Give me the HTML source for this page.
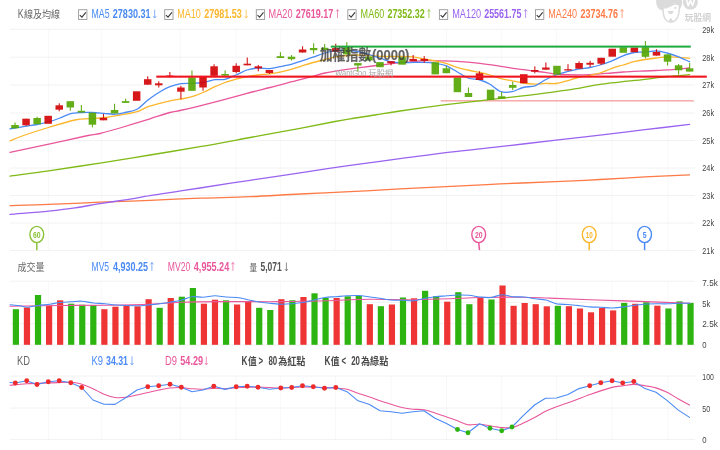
<!DOCTYPE html>
<html><head><meta charset="utf-8"><title>chart</title><style>html,body{margin:0;padding:0;background:#fff;width:720px;height:450px;overflow:hidden}</style></head><body>
<svg width="720" height="450" viewBox="0 0 720 450" style="display:block;font-family:'Liberation Sans','Noto Sans CJK TC',sans-serif;filter:blur(0.7px)">
<rect width="720" height="450" fill="#fff"/>
<path d="M48.6 29.3V250.5M101.3 29.3V250.5M180.3 29.3V250.5M236.2 29.3V250.5M280.3 29.3V250.5M335.5 29.3V250.5M391.2 29.3V250.5M446.6 29.3V250.5M501.3 29.3V250.5M556.6 29.3V250.5M611.8 29.3V250.5M668.0 29.3V250.5M48.6 281.2V345M101.3 281.2V345M180.3 281.2V345M236.2 281.2V345M280.3 281.2V345M335.5 281.2V345M391.2 281.2V345M446.6 281.2V345M501.3 281.2V345M556.6 281.2V345M611.8 281.2V345M668.0 281.2V345M48.6 376V439.4M101.3 376V439.4M180.3 376V439.4M236.2 376V439.4M280.3 376V439.4M335.5 376V439.4M391.2 376V439.4M446.6 376V439.4M501.3 376V439.4M556.6 376V439.4M611.8 376V439.4M668.0 376V439.4" stroke="#f8f8f8" stroke-width="1" fill="none"/>
<path d="M10 29.3H695M10 57.2H695M10 85.0H695M10 113.0H695M10 140.6H695M10 168.0H695M10 195.5H695M10 223.0H695M10 250.5H695M10 281.2H695M10 302.4H695M10 323.7H695M10 345H695M10 376H695M10 408H695M10 439.4H695" stroke="#f2f2f2" stroke-width="1" fill="none"/>
<rect x="440.8" y="100.3" width="253" height="1.1" fill="#f28a8a"/>
<path d="M10.0 205.6C16.4 205.4 33.6 205.0 48.6 204.4C63.6 203.8 83.1 202.9 100.0 202.2C116.9 201.5 133.3 201.0 150.0 200.3C166.7 199.6 183.3 198.8 200.0 198.2C216.7 197.6 233.3 197.4 250.0 196.7C266.7 196.0 283.3 194.8 300.0 194.0C316.7 193.2 333.3 192.5 350.0 191.7C366.7 190.8 384.0 189.7 400.0 188.9C416.0 188.1 429.3 187.5 446.0 186.7C462.7 185.9 481.7 184.8 500.0 183.9C518.3 183.1 539.3 182.3 556.0 181.6C572.7 180.9 585.2 180.3 600.0 179.5C614.8 178.7 630.1 177.7 645.0 176.9C659.9 176.1 682.1 175.2 689.5 174.9" stroke="#ff7a45" stroke-width="1.3" fill="none" stroke-linejoin="round" stroke-linecap="round"/>
<path d="M10.0 214.4C16.4 213.8 37.8 212.2 48.6 211.1C59.4 210.0 66.4 209.2 75.0 207.9C83.6 206.7 91.7 204.9 100.0 203.6C108.3 202.3 116.7 201.2 125.0 199.9C133.3 198.6 141.7 197.0 150.0 195.7C158.3 194.3 166.7 193.1 175.0 191.8C183.3 190.5 187.5 189.9 200.0 188.0C212.5 186.1 233.3 182.8 250.0 180.3C266.7 177.8 283.3 175.3 300.0 172.8C316.7 170.3 333.3 167.7 350.0 165.3C366.7 163.0 383.3 160.9 400.0 158.7C416.7 156.5 433.3 154.1 450.0 152.1C466.7 150.1 482.3 148.7 500.0 146.7C517.7 144.7 539.3 142.0 556.0 140.1C572.7 138.2 585.2 136.8 600.0 135.1C614.8 133.4 630.1 131.5 645.0 129.7C659.9 127.9 682.1 125.3 689.5 124.4" stroke="#9a63f0" stroke-width="1.3" fill="none" stroke-linejoin="round" stroke-linecap="round"/>
<path d="M10.0 176.1C16.4 175.2 33.6 173.0 48.6 170.8C63.6 168.6 83.1 165.7 100.0 163.1C116.9 160.5 133.3 157.7 150.0 155.0C166.7 152.3 183.3 149.6 200.0 146.7C216.7 143.8 233.3 140.6 250.0 137.5C266.7 134.4 285.8 131.0 300.0 128.3C314.2 125.6 326.7 123.1 335.0 121.5C343.3 119.9 343.3 119.9 350.0 118.8C356.7 117.7 366.7 116.3 375.0 115.0C383.3 113.7 388.2 112.7 400.0 111.0C411.8 109.3 433.5 106.3 446.0 104.7C458.5 103.1 465.2 102.4 475.0 101.3C484.8 100.2 495.8 98.9 505.0 97.9C514.2 96.9 521.5 96.1 530.0 95.1C538.5 94.1 547.7 92.8 556.0 91.7C564.3 90.6 572.7 89.4 580.0 88.2C587.3 87.0 589.2 85.9 600.0 84.4C610.8 82.9 633.8 80.6 645.0 79.3C656.2 78.0 659.6 77.3 667.0 76.5C674.4 75.7 685.8 75.0 689.5 74.7" stroke="#7fba16" stroke-width="1.3" fill="none" stroke-linejoin="round" stroke-linecap="round"/>
<path d="M10.0 152.3C16.7 150.9 37.0 146.6 50.0 143.8C63.0 141.0 79.7 137.2 88.0 135.5C96.3 133.8 94.7 134.8 100.0 133.5C105.3 132.2 111.7 130.4 120.0 128.0C128.3 125.5 141.7 121.4 150.0 118.8C158.3 116.2 165.0 113.9 170.0 112.5C175.0 111.1 175.0 111.6 180.0 110.5C185.0 109.4 192.5 107.7 200.0 105.8C207.5 103.9 217.2 101.4 225.0 99.3C232.8 97.2 239.5 95.3 247.0 93.3C254.5 91.3 262.5 89.4 270.0 87.5C277.5 85.6 284.8 83.6 292.0 81.7C299.2 79.8 307.5 77.8 313.0 76.3C318.5 74.8 319.7 74.1 325.0 73.0C330.3 71.9 339.2 70.5 345.0 69.6C350.8 68.7 354.2 68.4 360.0 67.6C365.8 66.8 373.3 65.8 380.0 65.0C386.7 64.2 394.5 63.3 400.0 62.8C405.5 62.2 409.0 62.1 413.0 61.7C417.0 61.4 419.5 60.9 424.0 60.7C428.5 60.6 434.5 60.7 440.0 60.8C445.5 60.9 450.3 60.9 457.0 61.3C463.7 61.7 472.7 62.5 480.0 63.3C487.3 64.1 493.8 65.2 501.0 66.3C508.2 67.4 515.7 68.7 523.0 69.7C530.3 70.7 539.5 71.7 545.0 72.4C550.5 73.1 552.3 73.6 556.0 74.0C559.7 74.4 563.3 74.6 567.0 74.7C570.7 74.8 574.2 74.8 578.0 74.8C581.8 74.8 586.3 74.9 590.0 74.7C593.7 74.5 596.3 74.1 600.0 73.8C603.7 73.5 608.2 73.3 612.0 73.0C615.8 72.7 619.3 72.3 623.0 72.0C626.7 71.7 630.3 71.6 634.0 71.4C637.7 71.2 641.3 71.2 645.0 71.0C648.7 70.8 652.3 70.7 656.0 70.5C659.7 70.3 661.4 70.3 667.0 69.9C672.6 69.5 685.8 68.3 689.5 68.0" stroke="#e9579b" stroke-width="1.3" fill="none" stroke-linejoin="round" stroke-linecap="round"/>
<path d="M10.0 140.8C12.5 139.8 18.3 137.3 25.0 135.0C31.7 132.7 41.7 129.5 50.0 127.0C58.3 124.5 68.3 121.4 75.0 120.0C81.7 118.6 85.0 119.1 90.0 118.7C95.0 118.3 100.0 118.1 105.0 117.5C110.0 116.9 116.7 115.5 120.0 115.0C123.3 114.5 122.2 114.8 125.0 114.2C127.8 113.7 133.2 113.0 137.0 111.7C140.8 110.5 144.2 108.1 148.0 106.7C151.8 105.3 156.3 104.3 160.0 103.3C163.7 102.3 166.7 101.5 170.0 100.8C173.3 100.1 176.3 99.9 180.0 99.2C183.7 98.5 188.2 97.8 192.0 96.7C195.8 95.6 199.2 94.2 203.0 92.5C206.8 90.8 211.3 88.4 215.0 86.7C218.7 85.0 221.5 83.8 225.0 82.5C228.5 81.2 232.3 80.2 236.0 79.2C239.7 78.2 243.3 77.4 247.0 76.7C250.7 76.0 254.2 75.5 258.0 75.0C261.8 74.5 266.3 74.3 270.0 73.8C273.7 73.3 276.3 73.0 280.0 72.2C283.7 71.4 288.3 70.3 292.0 69.2C295.7 68.1 298.5 66.9 302.0 65.8C305.5 64.7 309.2 63.5 313.0 62.5C316.8 61.5 321.3 60.4 325.0 59.5C328.7 58.6 331.3 57.9 335.0 57.2C338.7 56.5 343.2 55.9 347.0 55.5C350.8 55.1 354.3 55.0 358.0 55.0C361.7 55.0 365.3 55.3 369.0 55.5C372.7 55.7 376.3 56.1 380.0 56.3C383.7 56.5 387.3 56.5 391.0 56.5C394.7 56.5 398.3 56.5 402.0 56.5C405.7 56.5 409.3 56.4 413.0 56.8C416.7 57.2 420.3 58.2 424.0 58.9C427.7 59.6 431.3 60.1 435.0 60.8C438.7 61.5 442.3 62.2 446.0 63.3C449.7 64.4 453.3 66.2 457.0 67.3C460.7 68.4 464.2 69.1 468.0 70.0C471.8 70.9 476.3 71.7 480.0 72.5C483.7 73.3 486.5 74.0 490.0 75.0C493.5 76.0 497.3 77.7 501.0 78.7C504.7 79.7 508.3 80.1 512.0 80.8C515.7 81.5 519.2 82.4 523.0 83.0C526.8 83.6 531.3 84.1 535.0 84.2C538.7 84.3 541.5 83.5 545.0 83.4C548.5 83.3 552.3 83.9 556.0 83.5C559.7 83.1 563.3 81.8 567.0 80.8C570.7 79.8 574.2 78.4 578.0 77.5C581.8 76.6 586.3 76.0 590.0 75.3C593.7 74.5 596.3 74.2 600.0 73.0C603.7 71.8 608.2 69.6 612.0 68.3C615.8 67.0 619.3 66.1 623.0 65.0C626.7 63.9 630.3 62.6 634.0 61.7C637.7 60.8 641.3 60.1 645.0 59.5C648.7 58.9 652.3 58.4 656.0 58.0C659.7 57.6 663.3 57.0 667.0 56.9C670.7 56.8 674.2 57.1 678.0 57.3C681.8 57.5 687.6 58.1 689.5 58.2" stroke="#fbb62c" stroke-width="1.3" fill="none" stroke-linejoin="round" stroke-linecap="round"/>
<path d="M10.0 128.8C12.5 128.4 20.5 127.0 25.0 126.3C29.5 125.6 32.8 125.3 37.0 124.5C41.2 123.7 46.2 122.6 50.0 121.5C53.8 120.4 56.7 119.3 60.0 118.0C63.3 116.7 66.5 114.7 70.0 113.8C73.5 112.9 77.3 112.8 81.0 112.6C84.7 112.4 88.2 112.4 92.0 112.5C95.8 112.6 100.2 113.1 104.0 113.4C107.8 113.7 111.5 114.4 115.0 114.2C118.5 114.0 121.3 113.3 125.0 112.5C128.7 111.7 133.2 111.3 137.0 109.2C140.8 107.1 144.2 102.9 148.0 100.0C151.8 97.1 156.3 93.9 160.0 91.7C163.7 89.5 166.5 88.0 170.0 86.7C173.5 85.4 177.3 84.3 181.0 83.7C184.7 83.1 188.3 83.5 192.0 83.3C195.7 83.1 199.2 83.1 203.0 82.5C206.8 81.9 211.3 80.2 215.0 79.7C218.7 79.2 221.5 80.1 225.0 79.3C228.5 78.5 232.3 76.5 236.0 75.0C239.7 73.5 243.3 71.2 247.0 70.0C250.7 68.8 254.2 68.2 258.0 68.0C261.8 67.8 266.3 68.9 270.0 68.7C273.7 68.5 276.3 67.5 280.0 66.7C283.7 66.0 288.3 65.2 292.0 64.2C295.7 63.2 298.5 62.0 302.0 60.8C305.5 59.6 309.2 58.5 313.0 57.2C316.8 55.9 321.2 54.1 325.0 53.0C328.8 51.9 332.3 51.1 336.0 50.7C339.7 50.3 343.3 50.4 347.0 50.5C350.7 50.6 354.3 50.8 358.0 51.5C361.7 52.2 365.3 53.4 369.0 54.5C372.7 55.6 376.3 56.8 380.0 58.0C383.7 59.2 387.3 61.0 391.0 61.8C394.7 62.6 398.3 62.6 402.0 62.7C405.7 62.8 409.3 62.5 413.0 62.4C416.7 62.3 420.3 62.3 424.0 62.4C427.7 62.5 431.3 62.7 435.0 63.2C438.7 63.8 442.3 64.3 446.0 65.7C449.7 67.1 453.3 69.7 457.0 71.7C460.7 73.8 464.2 76.6 468.0 78.0C471.8 79.4 476.3 79.0 480.0 80.0C483.7 81.0 486.5 82.2 490.0 84.2C493.5 86.2 497.3 90.5 501.0 91.7C504.7 93.0 508.3 92.4 512.0 91.7C515.7 91.0 519.2 88.5 523.0 87.5C526.8 86.5 531.3 87.0 535.0 85.8C538.7 84.5 541.5 81.8 545.0 80.0C548.5 78.2 552.3 76.4 556.0 75.0C559.7 73.6 563.3 72.7 567.0 71.7C570.7 70.7 574.2 69.9 578.0 69.2C581.8 68.5 586.3 68.2 590.0 67.5C593.7 66.8 596.3 66.1 600.0 65.0C603.7 63.9 608.2 62.3 612.0 60.8C615.8 59.3 619.3 57.2 623.0 55.8C626.7 54.4 630.3 53.1 634.0 52.5C637.7 51.9 641.3 52.4 645.0 52.1C648.7 51.8 652.3 50.8 656.0 50.9C659.7 51.0 663.3 52.0 667.0 53.0C670.7 54.0 674.2 55.1 678.0 56.6C681.8 58.1 687.6 60.9 689.5 61.7" stroke="#4a8af4" stroke-width="1.3" fill="none" stroke-linejoin="round" stroke-linecap="round"/>
<g opacity="0.9">
<rect x="14.45" y="122.5" width="1.1" height="5.8" fill="#53a600"/>
<rect x="11.25" y="125.0" width="7.5" height="3.3" fill="#53a600"/>
<rect x="25.51" y="118.7" width="1.1" height="7.1" fill="#d20003"/>
<rect x="22.31" y="118.7" width="7.5" height="6.6" fill="#d20003"/>
<rect x="36.57" y="116.7" width="1.1" height="7.5" fill="#53a600"/>
<rect x="33.37" y="118.0" width="7.5" height="6.2" fill="#53a600"/>
<rect x="44.43" y="115.8" width="7.5" height="8.0" fill="#d20003"/>
<rect x="58.69" y="103.3" width="1.1" height="8.0" fill="#d20003"/>
<rect x="55.49" y="105.3" width="7.5" height="4.4" fill="#d20003"/>
<rect x="69.75" y="101.2" width="1.1" height="9.6" fill="#53a600"/>
<rect x="66.55" y="101.2" width="7.5" height="6.3" fill="#53a600"/>
<rect x="80.81" y="105.0" width="1.1" height="7.5" fill="#53a600"/>
<rect x="77.61" y="110.8" width="7.5" height="1.7" fill="#53a600"/>
<rect x="91.87" y="112.7" width="1.1" height="14.6" fill="#53a600"/>
<rect x="88.67" y="112.7" width="7.5" height="12.0" fill="#53a600"/>
<rect x="102.93" y="114.0" width="1.1" height="6.3" fill="#d20003"/>
<rect x="99.73" y="117.8" width="7.5" height="2.5" fill="#d20003"/>
<rect x="113.99" y="103.8" width="1.1" height="9.6" fill="#53a600"/>
<rect x="110.79" y="110.0" width="7.5" height="3.4" fill="#53a600"/>
<rect x="125.05" y="98.7" width="1.1" height="4.2" fill="#53a600"/>
<rect x="121.85" y="101.1" width="7.5" height="1.8" fill="#53a600"/>
<rect x="132.91" y="91.3" width="7.5" height="9.5" fill="#d20003"/>
<rect x="147.17" y="76.3" width="1.1" height="8.4" fill="#d20003"/>
<rect x="143.97" y="79.2" width="7.5" height="5.5" fill="#d20003"/>
<rect x="158.23" y="81.3" width="1.1" height="6.2" fill="#d20003"/>
<rect x="155.03" y="83.3" width="7.5" height="2.0" fill="#d20003"/>
<rect x="169.29" y="72.0" width="1.1" height="5.5" fill="#d20003"/>
<rect x="166.09" y="75.5" width="7.5" height="1.5" fill="#d20003"/>
<rect x="180.35" y="85.8" width="1.1" height="13.4" fill="#d20003"/>
<rect x="177.15" y="87.5" width="7.5" height="4.2" fill="#d20003"/>
<rect x="191.41" y="70.5" width="1.1" height="20.3" fill="#53a600"/>
<rect x="188.21" y="77.5" width="7.5" height="13.3" fill="#53a600"/>
<rect x="202.47" y="77.0" width="1.1" height="13.8" fill="#d20003"/>
<rect x="199.27" y="77.0" width="7.5" height="10.5" fill="#d20003"/>
<rect x="213.53" y="64.2" width="1.1" height="11.6" fill="#d20003"/>
<rect x="210.33" y="66.3" width="7.5" height="9.5" fill="#d20003"/>
<rect x="224.59" y="70.4" width="1.1" height="5.2" fill="#53a600"/>
<rect x="221.39" y="74.0" width="7.5" height="1.6" fill="#53a600"/>
<rect x="235.65" y="63.3" width="1.1" height="10.0" fill="#d20003"/>
<rect x="232.45" y="65.8" width="7.5" height="6.2" fill="#d20003"/>
<rect x="246.71" y="57.5" width="1.1" height="7.8" fill="#d20003"/>
<rect x="243.51" y="63.7" width="7.5" height="1.6" fill="#d20003"/>
<rect x="257.77" y="65.0" width="1.1" height="6.3" fill="#d20003"/>
<rect x="254.57" y="66.3" width="7.5" height="2.0" fill="#d20003"/>
<rect x="268.83" y="70.0" width="1.1" height="4.0" fill="#d20003"/>
<rect x="265.63" y="70.0" width="7.5" height="3.0" fill="#d20003"/>
<rect x="279.89" y="52.2" width="1.1" height="5.8" fill="#53a600"/>
<rect x="276.69" y="56.2" width="7.5" height="1.8" fill="#53a600"/>
<rect x="290.95" y="55.0" width="1.1" height="5.5" fill="#53a600"/>
<rect x="287.75" y="56.7" width="7.5" height="2.5" fill="#53a600"/>
<rect x="302.01" y="46.3" width="1.1" height="6.2" fill="#d20003"/>
<rect x="298.81" y="49.5" width="7.5" height="3.0" fill="#d20003"/>
<rect x="313.07" y="43.3" width="1.1" height="10.5" fill="#53a600"/>
<rect x="309.87" y="48.0" width="7.5" height="2.2" fill="#53a600"/>
<rect x="324.13" y="44.0" width="1.1" height="6.0" fill="#53a600"/>
<rect x="320.93" y="47.8" width="7.5" height="2.2" fill="#53a600"/>
<rect x="335.19" y="43.7" width="1.1" height="8.0" fill="#d20003"/>
<rect x="331.99" y="48.1" width="7.5" height="3.6" fill="#d20003"/>
<rect x="346.25" y="42.2" width="1.1" height="12.2" fill="#53a600"/>
<rect x="343.05" y="47.2" width="7.5" height="7.2" fill="#53a600"/>
<rect x="357.31" y="63.1" width="1.1" height="8.7" fill="#53a600"/>
<rect x="354.11" y="63.1" width="7.5" height="2.4" fill="#53a600"/>
<rect x="365.17" y="56.5" width="7.5" height="4.0" fill="#53a600"/>
<rect x="376.23" y="62.1" width="7.5" height="5.1" fill="#53a600"/>
<rect x="390.49" y="61.2" width="1.1" height="4.1" fill="#d20003"/>
<rect x="387.29" y="61.2" width="7.5" height="2.1" fill="#d20003"/>
<rect x="398.35" y="57.2" width="7.5" height="7.5" fill="#53a600"/>
<rect x="412.61" y="55.0" width="1.1" height="6.1" fill="#d20003"/>
<rect x="409.41" y="58.9" width="7.5" height="2.2" fill="#d20003"/>
<rect x="423.67" y="56.1" width="1.1" height="6.7" fill="#d20003"/>
<rect x="420.47" y="58.9" width="7.5" height="1.9" fill="#d20003"/>
<rect x="431.53" y="62.2" width="7.5" height="12.2" fill="#53a600"/>
<rect x="445.79" y="66.0" width="1.1" height="7.2" fill="#53a600"/>
<rect x="442.59" y="68.3" width="7.5" height="4.9" fill="#53a600"/>
<rect x="453.65" y="77.5" width="7.5" height="14.7" fill="#53a600"/>
<rect x="467.91" y="87.5" width="1.1" height="9.5" fill="#53a600"/>
<rect x="464.71" y="93.0" width="7.5" height="4.0" fill="#53a600"/>
<rect x="478.97" y="71.3" width="1.1" height="8.7" fill="#d20003"/>
<rect x="475.77" y="73.3" width="7.5" height="6.7" fill="#d20003"/>
<rect x="486.83" y="89.7" width="7.5" height="10.3" fill="#53a600"/>
<rect x="501.09" y="92.0" width="1.1" height="6.7" fill="#53a600"/>
<rect x="497.89" y="96.3" width="7.5" height="2.4" fill="#53a600"/>
<rect x="512.15" y="81.7" width="1.1" height="8.3" fill="#53a600"/>
<rect x="508.95" y="85.0" width="7.5" height="2.8" fill="#53a600"/>
<rect x="520.01" y="74.2" width="7.5" height="9.1" fill="#d20003"/>
<rect x="534.27" y="66.3" width="1.1" height="7.0" fill="#d20003"/>
<rect x="531.07" y="70.0" width="7.5" height="1.7" fill="#d20003"/>
<rect x="545.33" y="62.5" width="1.1" height="7.2" fill="#d20003"/>
<rect x="542.13" y="67.5" width="7.5" height="2.2" fill="#d20003"/>
<rect x="553.19" y="65.8" width="7.5" height="8.8" fill="#53a600"/>
<rect x="567.45" y="64.2" width="1.1" height="6.3" fill="#d20003"/>
<rect x="564.25" y="69.2" width="7.5" height="1.3" fill="#d20003"/>
<rect x="578.51" y="61.3" width="1.1" height="7.4" fill="#d20003"/>
<rect x="575.31" y="63.0" width="7.5" height="5.7" fill="#d20003"/>
<rect x="589.57" y="60.8" width="1.1" height="6.2" fill="#d20003"/>
<rect x="586.37" y="62.8" width="7.5" height="1.9" fill="#d20003"/>
<rect x="600.63" y="57.8" width="1.1" height="7.2" fill="#d20003"/>
<rect x="597.43" y="57.8" width="7.5" height="5.9" fill="#d20003"/>
<rect x="608.49" y="48.7" width="7.5" height="8.0" fill="#d20003"/>
<rect x="619.55" y="47.2" width="7.5" height="5.6" fill="#53a600"/>
<rect x="630.61" y="47.5" width="7.5" height="4.7" fill="#d20003"/>
<rect x="644.87" y="41.0" width="1.1" height="17.4" fill="#53a600"/>
<rect x="641.67" y="47.2" width="7.5" height="9.6" fill="#53a600"/>
<rect x="655.93" y="49.2" width="1.1" height="6.4" fill="#d20003"/>
<rect x="652.73" y="51.9" width="7.5" height="3.7" fill="#d20003"/>
<rect x="666.99" y="54.4" width="1.1" height="11.1" fill="#53a600"/>
<rect x="663.79" y="54.4" width="7.5" height="7.3" fill="#53a600"/>
<rect x="678.05" y="64.0" width="1.1" height="10.6" fill="#53a600"/>
<rect x="674.85" y="65.3" width="7.5" height="5.0" fill="#53a600"/>
<rect x="689.11" y="63.0" width="1.1" height="8.6" fill="#53a600"/>
<rect x="685.91" y="68.3" width="7.5" height="3.3" fill="#53a600"/>
</g>
<rect x="156.3" y="75.6" width="550.5" height="2.1" fill="#f0141e"/>
<rect x="330.8" y="45.6" width="360" height="2" fill="#1eaa3c"/>
<rect x="12.80" y="309.2" width="6.2" height="35.6" fill="#2eb410"/>
<rect x="23.86" y="307.5" width="6.2" height="37.3" fill="#ee3434"/>
<rect x="34.92" y="295.0" width="6.2" height="49.8" fill="#2eb410"/>
<rect x="45.98" y="305.8" width="6.2" height="39.0" fill="#ee3434"/>
<rect x="57.04" y="300.3" width="6.2" height="44.5" fill="#ee3434"/>
<rect x="68.10" y="303.7" width="6.2" height="41.1" fill="#2eb410"/>
<rect x="79.16" y="304.7" width="6.2" height="40.1" fill="#2eb410"/>
<rect x="90.22" y="305.0" width="6.2" height="39.8" fill="#2eb410"/>
<rect x="101.28" y="309.2" width="6.2" height="35.6" fill="#ee3434"/>
<rect x="112.34" y="306.7" width="6.2" height="38.1" fill="#ee3434"/>
<rect x="123.40" y="305.5" width="6.2" height="39.3" fill="#ee3434"/>
<rect x="134.46" y="306.3" width="6.2" height="38.5" fill="#ee3434"/>
<rect x="145.52" y="299.2" width="6.2" height="45.6" fill="#ee3434"/>
<rect x="156.58" y="307.8" width="6.2" height="37.0" fill="#2eb410"/>
<rect x="167.64" y="298.0" width="6.2" height="46.8" fill="#ee3434"/>
<rect x="178.70" y="296.7" width="6.2" height="48.1" fill="#2eb410"/>
<rect x="189.76" y="288.0" width="6.2" height="56.8" fill="#2eb410"/>
<rect x="200.82" y="303.7" width="6.2" height="41.1" fill="#ee3434"/>
<rect x="211.88" y="299.7" width="6.2" height="45.1" fill="#ee3434"/>
<rect x="222.94" y="300.3" width="6.2" height="44.5" fill="#2eb410"/>
<rect x="234.00" y="304.5" width="6.2" height="40.3" fill="#ee3434"/>
<rect x="245.06" y="301.7" width="6.2" height="43.1" fill="#ee3434"/>
<rect x="256.12" y="307.8" width="6.2" height="37.0" fill="#2eb410"/>
<rect x="267.18" y="310.0" width="6.2" height="34.8" fill="#2eb410"/>
<rect x="278.24" y="299.2" width="6.2" height="45.6" fill="#ee3434"/>
<rect x="289.30" y="300.3" width="6.2" height="44.5" fill="#2eb410"/>
<rect x="300.36" y="297.0" width="6.2" height="47.8" fill="#ee3434"/>
<rect x="311.42" y="293.3" width="6.2" height="51.5" fill="#2eb410"/>
<rect x="322.48" y="298.0" width="6.2" height="46.8" fill="#2eb410"/>
<rect x="333.54" y="298.0" width="6.2" height="46.8" fill="#ee3434"/>
<rect x="344.60" y="296.3" width="6.2" height="48.5" fill="#2eb410"/>
<rect x="355.66" y="295.8" width="6.2" height="49.0" fill="#2eb410"/>
<rect x="366.72" y="304.2" width="6.2" height="40.6" fill="#ee3434"/>
<rect x="377.78" y="306.2" width="6.2" height="38.6" fill="#2eb410"/>
<rect x="388.84" y="304.5" width="6.2" height="40.3" fill="#ee3434"/>
<rect x="399.90" y="297.5" width="6.2" height="47.3" fill="#2eb410"/>
<rect x="410.96" y="298.3" width="6.2" height="46.5" fill="#ee3434"/>
<rect x="422.02" y="290.8" width="6.2" height="54.0" fill="#2eb410"/>
<rect x="433.08" y="296.2" width="6.2" height="48.6" fill="#2eb410"/>
<rect x="444.14" y="301.7" width="6.2" height="43.1" fill="#ee3434"/>
<rect x="455.20" y="292.2" width="6.2" height="52.6" fill="#2eb410"/>
<rect x="466.26" y="304.2" width="6.2" height="40.6" fill="#2eb410"/>
<rect x="477.32" y="297.5" width="6.2" height="47.3" fill="#ee3434"/>
<rect x="488.38" y="299.5" width="6.2" height="45.3" fill="#2eb410"/>
<rect x="499.44" y="285.5" width="6.2" height="59.3" fill="#ee3434"/>
<rect x="510.50" y="305.8" width="6.2" height="39.0" fill="#ee3434"/>
<rect x="521.56" y="303.0" width="6.2" height="41.8" fill="#ee3434"/>
<rect x="532.62" y="304.2" width="6.2" height="40.6" fill="#ee3434"/>
<rect x="543.68" y="306.3" width="6.2" height="38.5" fill="#ee3434"/>
<rect x="554.74" y="305.8" width="6.2" height="39.0" fill="#2eb410"/>
<rect x="565.80" y="306.2" width="6.2" height="38.6" fill="#ee3434"/>
<rect x="576.86" y="308.5" width="6.2" height="36.3" fill="#ee3434"/>
<rect x="587.92" y="312.3" width="6.2" height="32.5" fill="#ee3434"/>
<rect x="598.98" y="308.0" width="6.2" height="36.8" fill="#ee3434"/>
<rect x="610.04" y="310.4" width="6.2" height="34.4" fill="#ee3434"/>
<rect x="621.10" y="302.9" width="6.2" height="41.9" fill="#2eb410"/>
<rect x="632.16" y="303.8" width="6.2" height="41.0" fill="#ee3434"/>
<rect x="643.22" y="302.2" width="6.2" height="42.6" fill="#2eb410"/>
<rect x="654.28" y="305.7" width="6.2" height="39.1" fill="#ee3434"/>
<rect x="665.34" y="308.5" width="6.2" height="36.3" fill="#2eb410"/>
<rect x="676.40" y="301.4" width="6.2" height="43.4" fill="#2eb410"/>
<rect x="687.46" y="302.9" width="6.2" height="41.9" fill="#2eb410"/>
<path d="M10.0 306.2C18.3 306.1 43.3 305.7 60.0 305.5C76.7 305.3 95.0 305.4 110.0 305.2C125.0 305.0 138.2 304.7 150.0 304.2C161.8 303.7 169.3 302.6 181.0 302.2C192.7 301.8 205.2 301.7 220.0 301.6C234.8 301.5 256.2 301.8 270.0 301.7C283.8 301.6 291.3 301.6 303.0 301.3C314.7 301.1 328.8 300.6 340.0 300.2C351.2 299.8 357.7 299.3 370.0 299.2C382.3 299.1 400.7 299.8 414.0 299.7C427.3 299.6 439.0 299.2 450.0 298.8C461.0 298.4 468.3 297.8 480.0 297.5C491.7 297.2 508.3 297.1 520.0 297.2C531.7 297.3 538.3 297.7 550.0 298.1C561.7 298.5 575.0 299.2 590.0 299.8C605.0 300.4 623.3 300.8 640.0 301.4C656.7 302.0 681.7 303.0 690.0 303.3" stroke="#e9579b" stroke-width="1.1" fill="none" stroke-linejoin="round" stroke-linecap="round"/>
<path d="M10.0 304.7C11.7 304.9 17.2 305.4 20.0 305.8C22.8 306.2 24.0 307.2 27.0 307.2C30.0 307.1 34.2 306.0 38.0 305.5C41.8 305.0 46.3 304.7 50.0 304.2C53.7 303.7 56.5 302.9 60.0 302.5C63.5 302.1 67.3 301.9 71.0 301.7C74.7 301.5 78.3 301.0 82.0 301.2C85.7 301.4 89.2 302.6 93.0 303.0C96.8 303.4 101.2 303.4 105.0 303.7C108.8 304.0 110.7 304.6 116.0 305.0C121.3 305.4 131.7 305.8 137.0 305.8C142.3 305.8 144.2 305.4 148.0 305.0C151.8 304.6 156.3 304.2 160.0 303.7C163.7 303.2 166.5 302.8 170.0 302.2C173.5 301.6 177.3 301.2 181.0 300.3C184.7 299.4 188.3 297.2 192.0 296.7C195.7 296.2 199.2 297.3 203.0 297.2C206.8 297.1 211.2 295.8 215.0 295.8C218.8 295.8 222.3 296.7 226.0 297.0C229.7 297.3 233.3 297.1 237.0 297.5C240.7 297.9 244.3 298.9 248.0 299.7C251.7 300.4 255.3 301.4 259.0 302.0C262.7 302.6 266.3 302.9 270.0 303.3C273.7 303.7 277.3 304.1 281.0 304.2C284.7 304.3 288.3 304.0 292.0 303.7C295.7 303.4 299.3 303.1 303.0 302.5C306.7 301.9 310.3 300.8 314.0 300.0C317.7 299.2 321.3 298.1 325.0 297.5C328.7 296.9 332.3 297.0 336.0 296.7C339.7 296.4 343.3 296.0 347.0 295.8C350.7 295.6 354.2 295.3 358.0 295.5C361.8 295.7 366.3 296.5 370.0 297.0C373.7 297.5 376.5 297.8 380.0 298.3C383.5 298.8 387.3 299.7 391.0 300.0C394.7 300.3 398.2 300.2 402.0 300.3C405.8 300.4 410.2 301.1 414.0 300.8C417.8 300.5 421.5 299.0 425.0 298.3C428.5 297.6 431.3 297.1 435.0 296.7C438.7 296.3 443.2 296.1 447.0 295.8C450.8 295.5 454.3 295.1 458.0 295.0C461.7 294.9 465.3 295.0 469.0 295.3C472.7 295.6 476.3 296.6 480.0 297.0C483.7 297.4 487.3 297.9 491.0 297.5C494.7 297.1 498.3 294.8 502.0 294.7C505.7 294.6 509.3 296.3 513.0 296.7C516.7 297.1 520.3 296.7 524.0 297.0C527.7 297.3 531.3 298.2 535.0 298.7C538.7 299.2 542.3 299.1 546.0 300.0C549.7 300.9 553.3 303.1 557.0 303.9C560.7 304.6 564.2 304.2 568.0 304.5C571.8 304.8 576.3 305.3 580.0 305.7C583.7 306.1 586.5 306.6 590.0 306.9C593.5 307.2 597.3 307.1 601.0 307.3C604.7 307.5 608.2 308.1 612.0 308.0C615.8 307.9 620.2 307.4 624.0 306.9C627.8 306.4 631.3 305.7 635.0 305.2C638.7 304.7 642.3 304.2 646.0 304.0C649.7 303.8 653.3 303.8 657.0 303.8C660.7 303.8 664.3 303.9 668.0 303.8C671.7 303.7 675.3 303.4 679.0 303.3C682.7 303.2 688.2 303.3 690.0 303.3" stroke="#4a8af4" stroke-width="1.1" fill="none" stroke-linejoin="round" stroke-linecap="round"/>
<path d="M10.0 385.3C12.8 385.0 20.3 384.1 26.7 383.7C33.1 383.3 40.9 383.2 48.3 383.0C55.6 382.8 65.2 382.0 70.8 382.2C76.4 382.4 78.0 383.1 81.7 384.2C85.4 385.3 89.3 387.0 93.0 388.7C96.7 390.4 100.3 392.7 104.0 394.2C107.7 395.7 111.3 397.0 115.0 397.5C118.7 398.0 122.3 397.7 126.0 397.3C129.7 396.9 133.3 395.8 137.0 395.0C140.7 394.2 144.3 393.3 148.0 392.5C151.7 391.7 155.3 390.8 159.0 390.0C162.7 389.2 166.3 388.4 170.0 388.0C173.7 387.6 177.3 387.4 181.0 387.5C184.7 387.6 188.3 388.5 192.0 388.8C195.7 389.1 199.3 389.3 203.0 389.2C206.7 389.1 210.3 388.4 214.0 388.3C217.7 388.2 221.3 388.9 225.0 388.8C228.7 388.7 230.5 388.1 236.0 387.8C241.5 387.5 250.7 387.0 258.0 387.0C265.3 387.0 272.7 388.0 280.0 388.0C287.3 388.0 294.5 387.1 302.0 387.0C309.5 386.9 319.4 387.3 325.0 387.5C330.6 387.7 332.1 387.7 335.8 388.0C339.5 388.3 343.3 388.3 347.0 389.2C350.7 390.1 354.3 392.1 358.0 393.3C361.7 394.6 365.3 395.4 369.0 396.7C372.7 397.9 376.3 399.6 380.0 400.8C383.7 402.1 387.3 403.1 391.0 404.2C394.7 405.3 398.3 406.7 402.0 407.5C405.7 408.3 409.3 408.8 413.0 409.2C416.7 409.6 420.3 409.1 424.0 409.7C427.7 410.3 431.3 411.8 435.0 413.0C438.7 414.2 442.2 415.4 446.0 416.7C449.8 418.0 453.8 419.5 457.5 420.8C461.2 422.1 464.3 424.1 468.0 424.7C471.7 425.3 475.8 424.0 479.5 424.2C483.2 424.4 486.3 425.2 490.0 425.8C493.7 426.4 498.0 427.2 501.7 427.5C505.4 427.8 508.4 428.2 512.0 427.5C515.5 426.8 519.2 425.0 523.0 423.3C526.8 421.6 530.8 419.5 534.5 417.5C538.2 415.5 541.8 413.1 545.5 411.3C549.2 409.5 552.8 408.1 556.5 406.7C560.2 405.3 562.4 404.8 568.0 402.8C573.6 400.8 582.7 397.1 590.0 394.5C597.3 391.9 606.5 388.8 612.0 387.4C617.5 385.9 619.3 386.3 623.0 385.8C626.7 385.3 630.3 384.4 634.0 384.4C637.7 384.4 641.3 385.2 645.0 385.8C648.7 386.4 652.3 386.8 656.0 387.9C659.7 389.0 663.3 390.4 667.0 392.2C670.7 394.0 674.2 396.6 678.0 398.8C681.8 401.0 687.6 404.1 689.5 405.1" stroke="#e9579b" stroke-width="1.1" fill="none" stroke-linejoin="round" stroke-linecap="round"/>
<path d="M10.0 382.5L15.3 383.0L26.7 380.8L37.0 384.5L48.3 381.7L59.2 380.8L70.8 382.8L81.7 387.5L93.0 400.0L104.0 404.3L115.0 404.4L126.0 397.5L137.0 390.0L147.8 386.7L158.7 385.8L170.0 384.2L181.3 387.2L192.0 391.7L203.0 390.0L213.8 386.3L225.0 389.4L236.2 386.7L247.2 386.2L258.0 387.2L269.5 389.2L280.8 388.0L291.7 387.5L302.5 385.8L313.3 386.7L324.5 388.3L335.8 387.5L347.0 391.7L358.0 400.8L369.0 404.2L380.0 410.8L391.0 411.7L402.0 413.3L413.0 411.7L424.0 410.8L435.0 418.3L446.0 423.3L457.5 429.5L468.0 432.8L479.5 423.8L490.0 428.3L501.7 430.8L512.0 427.0L523.0 415.8L534.5 405.0L545.5 398.3L556.5 398.0L568.0 394.5L579.0 388.6L589.7 385.8L600.8 382.7L612.1 380.8L622.7 383.0L633.8 381.5L645.0 388.6L656.0 392.2L667.0 400.4L678.0 409.9L689.5 417.4" stroke="#4a8af4" stroke-width="1.1" fill="none" stroke-linejoin="round" stroke-linecap="round" opacity="1"/>
<circle cx="15.3" cy="383" r="2.45" fill="#ee2a2a"/>
<circle cx="26.7" cy="380.8" r="2.45" fill="#ee2a2a"/>
<circle cx="37" cy="384.5" r="2.45" fill="#ee2a2a"/>
<circle cx="48.3" cy="381.7" r="2.45" fill="#ee2a2a"/>
<circle cx="59.2" cy="380.8" r="2.45" fill="#ee2a2a"/>
<circle cx="70.8" cy="382.8" r="2.45" fill="#ee2a2a"/>
<circle cx="81.7" cy="387.5" r="2.45" fill="#ee2a2a"/>
<circle cx="147.8" cy="386.7" r="2.45" fill="#ee2a2a"/>
<circle cx="158.7" cy="385.8" r="2.45" fill="#ee2a2a"/>
<circle cx="170" cy="384.2" r="2.45" fill="#ee2a2a"/>
<circle cx="181.3" cy="387.2" r="2.45" fill="#ee2a2a"/>
<circle cx="213.8" cy="386.3" r="2.45" fill="#ee2a2a"/>
<circle cx="236.2" cy="386.7" r="2.45" fill="#ee2a2a"/>
<circle cx="247.2" cy="386.2" r="2.45" fill="#ee2a2a"/>
<circle cx="258" cy="387.2" r="2.45" fill="#ee2a2a"/>
<circle cx="280.8" cy="388" r="2.45" fill="#ee2a2a"/>
<circle cx="291.7" cy="387.5" r="2.45" fill="#ee2a2a"/>
<circle cx="302.5" cy="385.8" r="2.45" fill="#ee2a2a"/>
<circle cx="313.3" cy="386.7" r="2.45" fill="#ee2a2a"/>
<circle cx="324.5" cy="388.3" r="2.45" fill="#ee2a2a"/>
<circle cx="335.8" cy="387.5" r="2.45" fill="#ee2a2a"/>
<circle cx="589.7" cy="385.8" r="2.45" fill="#ee2a2a"/>
<circle cx="600.8" cy="382.7" r="2.45" fill="#ee2a2a"/>
<circle cx="612.1" cy="380.8" r="2.45" fill="#ee2a2a"/>
<circle cx="622.7" cy="383" r="2.45" fill="#ee2a2a"/>
<circle cx="633.8" cy="381.5" r="2.45" fill="#ee2a2a"/>
<circle cx="457.5" cy="429.5" r="2.45" fill="#2eb410"/>
<circle cx="468" cy="432.8" r="2.45" fill="#2eb410"/>
<circle cx="490" cy="428.3" r="2.45" fill="#2eb410"/>
<circle cx="501.7" cy="430.8" r="2.45" fill="#2eb410"/>
<circle cx="512" cy="427" r="2.45" fill="#2eb410"/>
<path d="M36.8 242.6L36.8 250.2" stroke="#8bc23a" stroke-width="1.5" fill="none"/><ellipse cx="36.8" cy="234.5" rx="6.9" ry="8.1" fill="#fff" stroke="#8bc23a" stroke-width="1.4"/><text x="36.8" y="237.6" font-size="8.6" font-weight="bold" fill="#8bc23a" text-anchor="middle" textLength="7.6" lengthAdjust="spacingAndGlyphs">60</text>
<path d="M478.7 242.6L479.5 250.2" stroke="#e9579b" stroke-width="1.5" fill="none"/><ellipse cx="478.7" cy="234.5" rx="6.9" ry="8.1" fill="#fff" stroke="#e9579b" stroke-width="1.4"/><text x="478.7" y="237.6" font-size="8.6" font-weight="bold" fill="#e9579b" text-anchor="middle" textLength="7.6" lengthAdjust="spacingAndGlyphs">20</text>
<path d="M589.2 242.6L589.2 250.2" stroke="#fbb62c" stroke-width="1.5" fill="none"/><ellipse cx="589.2" cy="234.5" rx="6.9" ry="8.1" fill="#fff" stroke="#fbb62c" stroke-width="1.4"/><text x="589.2" y="237.6" font-size="8.6" font-weight="bold" fill="#fbb62c" text-anchor="middle" textLength="7.0" lengthAdjust="spacingAndGlyphs">10</text>
<path d="M644.6 242.6L644.6 250.2" stroke="#4a8af4" stroke-width="1.5" fill="none"/><ellipse cx="644.6" cy="234.5" rx="6.9" ry="8.1" fill="#fff" stroke="#4a8af4" stroke-width="1.4"/><text x="644.6" y="237.6" font-size="8.6" font-weight="bold" fill="#4a8af4" text-anchor="middle" textLength="3.8" lengthAdjust="spacingAndGlyphs">5</text>
<text x="17.7" y="17.8" font-size="12.2" fill="#686868" textLength="5.9" lengthAdjust="spacingAndGlyphs" text-anchor="start" opacity="1">K</text>
<text x="24" y="17.7" font-size="10.4" fill="#686868" font-family="'Liberation Sans','Noto Sans CJK TC',sans-serif" textLength="36.1" lengthAdjust="spacingAndGlyphs" text-anchor="start" opacity="1">線及均線</text>
<rect x="78.6" y="9.7" width="8.3" height="9.8" fill="#fff" stroke="#999" stroke-width="0.9"/><path d="M79.8 15.2L81.89999999999999 17.2L85.8 12.3" stroke="#3a3a3a" stroke-width="1.1" fill="none"/>
<text x="91.5" y="17.8" font-size="12.2" fill="#4a8af4" textLength="18" lengthAdjust="spacingAndGlyphs" text-anchor="start" opacity="1">MA5</text>
<text x="112.8" y="17.8" font-size="12.2" fill="#4a8af4" font-weight="bold" textLength="37.7" lengthAdjust="spacingAndGlyphs" text-anchor="start" opacity="1">27830.31</text>
<path d="M154.7 9.600000000000001V18.0M153.2 16.2L154.7 18.0L156.2 16.2" stroke="#4a8af4" stroke-width="0.8" fill="none" opacity="0.85"/>
<rect x="164.7" y="9.7" width="8.3" height="9.8" fill="#fff" stroke="#999" stroke-width="0.9"/><path d="M165.89999999999998 15.2L168.0 17.2L171.89999999999998 12.3" stroke="#3a3a3a" stroke-width="1.1" fill="none"/>
<text x="177.2" y="17.8" font-size="12.2" fill="#fbb62c" textLength="23.6" lengthAdjust="spacingAndGlyphs" text-anchor="start" opacity="1">MA10</text>
<text x="204.2" y="17.8" font-size="12.2" fill="#fbb62c" font-weight="bold" textLength="37.6" lengthAdjust="spacingAndGlyphs" text-anchor="start" opacity="1">27981.53</text>
<path d="M246.2 9.600000000000001V18.0M244.7 16.2L246.2 18.0L247.7 16.2" stroke="#fbb62c" stroke-width="0.8" fill="none" opacity="0.85"/>
<rect x="256.3" y="9.7" width="8.3" height="9.8" fill="#fff" stroke="#999" stroke-width="0.9"/><path d="M257.5 15.2L259.6 17.2L263.5 12.3" stroke="#3a3a3a" stroke-width="1.1" fill="none"/>
<text x="268.6" y="17.8" font-size="12.2" fill="#e9579b" textLength="23.9" lengthAdjust="spacingAndGlyphs" text-anchor="start" opacity="1">MA20</text>
<text x="295.8" y="17.8" font-size="12.2" fill="#e9579b" font-weight="bold" textLength="37.5" lengthAdjust="spacingAndGlyphs" text-anchor="start" opacity="1">27619.17</text>
<path d="M337.5 18.0V9.600000000000001M336.0 11.4L337.5 9.600000000000001L339.0 11.4" stroke="#e9579b" stroke-width="0.8" fill="none" opacity="0.85"/>
<rect x="347.8" y="9.7" width="8.3" height="9.8" fill="#fff" stroke="#999" stroke-width="0.9"/><path d="M349.0 15.2L351.1 17.2L355.0 12.3" stroke="#3a3a3a" stroke-width="1.1" fill="none"/>
<text x="360.6" y="17.8" font-size="12.2" fill="#7fba16" textLength="23.7" lengthAdjust="spacingAndGlyphs" text-anchor="start" opacity="1">MA60</text>
<text x="387.4" y="17.8" font-size="12.2" fill="#7fba16" font-weight="bold" textLength="37.4" lengthAdjust="spacingAndGlyphs" text-anchor="start" opacity="1">27352.32</text>
<path d="M428.9 18.0V9.600000000000001M427.4 11.4L428.9 9.600000000000001L430.4 11.4" stroke="#7fba16" stroke-width="0.8" fill="none" opacity="0.85"/>
<rect x="439.4" y="9.7" width="8.3" height="9.8" fill="#fff" stroke="#999" stroke-width="0.9"/><path d="M440.59999999999997 15.2L442.7 17.2L446.59999999999997 12.3" stroke="#3a3a3a" stroke-width="1.1" fill="none"/>
<text x="452.2" y="17.8" font-size="12.2" fill="#9a63f0" textLength="29" lengthAdjust="spacingAndGlyphs" text-anchor="start" opacity="1">MA120</text>
<text x="484.2" y="17.8" font-size="12.2" fill="#9a63f0" font-weight="bold" textLength="37.2" lengthAdjust="spacingAndGlyphs" text-anchor="start" opacity="1">25561.75</text>
<path d="M525.6 18.0V9.600000000000001M524.1 11.4L525.6 9.600000000000001L527.1 11.4" stroke="#9a63f0" stroke-width="0.8" fill="none" opacity="0.85"/>
<rect x="535.5" y="9.7" width="8.3" height="9.8" fill="#fff" stroke="#999" stroke-width="0.9"/><path d="M536.7 15.2L538.8 17.2L542.7 12.3" stroke="#3a3a3a" stroke-width="1.1" fill="none"/>
<text x="548.3" y="17.8" font-size="12.2" fill="#ff7a45" textLength="28.7" lengthAdjust="spacingAndGlyphs" text-anchor="start" opacity="1">MA240</text>
<text x="580.4" y="17.8" font-size="12.2" fill="#ff7a45" font-weight="bold" textLength="37.5" lengthAdjust="spacingAndGlyphs" text-anchor="start" opacity="1">23734.76</text>
<path d="M622.1 18.0V9.600000000000001M620.6 11.4L622.1 9.600000000000001L623.6 11.4" stroke="#ff7a45" stroke-width="0.8" fill="none" opacity="0.85"/>
<text x="702.3" y="32.7" font-size="9.2" fill="#444" textLength="11.8" lengthAdjust="spacingAndGlyphs" text-anchor="start" opacity="1">29k</text>
<text x="702.3" y="60.6" font-size="9.2" fill="#444" textLength="11.8" lengthAdjust="spacingAndGlyphs" text-anchor="start" opacity="1">28k</text>
<text x="702.3" y="88.4" font-size="9.2" fill="#444" textLength="11.8" lengthAdjust="spacingAndGlyphs" text-anchor="start" opacity="1">27k</text>
<text x="702.3" y="116.4" font-size="9.2" fill="#444" textLength="11.8" lengthAdjust="spacingAndGlyphs" text-anchor="start" opacity="1">26k</text>
<text x="702.3" y="144.0" font-size="9.2" fill="#444" textLength="11.8" lengthAdjust="spacingAndGlyphs" text-anchor="start" opacity="1">25k</text>
<text x="702.3" y="171.4" font-size="9.2" fill="#444" textLength="11.8" lengthAdjust="spacingAndGlyphs" text-anchor="start" opacity="1">24k</text>
<text x="702.3" y="198.9" font-size="9.2" fill="#444" textLength="11.8" lengthAdjust="spacingAndGlyphs" text-anchor="start" opacity="1">23k</text>
<text x="702.3" y="226.4" font-size="9.2" fill="#444" textLength="11.8" lengthAdjust="spacingAndGlyphs" text-anchor="start" opacity="1">22k</text>
<text x="702.3" y="253.9" font-size="9.2" fill="#444" textLength="11.8" lengthAdjust="spacingAndGlyphs" text-anchor="start" opacity="1">21k</text>
<text x="702.3" y="285.8" font-size="9.2" fill="#444" textLength="15.5" lengthAdjust="spacingAndGlyphs" text-anchor="start" opacity="1">7.5k</text>
<text x="702.3" y="306.6" font-size="9.2" fill="#444" textLength="8" lengthAdjust="spacingAndGlyphs" text-anchor="start" opacity="1">5k</text>
<text x="702.3" y="326.90000000000003" font-size="9.2" fill="#444" textLength="15.5" lengthAdjust="spacingAndGlyphs" text-anchor="start" opacity="1">2.5k</text>
<text x="702.3" y="348.3" font-size="9.2" fill="#444" textLength="4.3" lengthAdjust="spacingAndGlyphs" text-anchor="start" opacity="1">0</text>
<text x="702.3" y="380.1" font-size="9.2" fill="#444" textLength="11.5" lengthAdjust="spacingAndGlyphs" text-anchor="start" opacity="1">100</text>
<text x="702.3" y="411.90000000000003" font-size="9.2" fill="#444" textLength="8" lengthAdjust="spacingAndGlyphs" text-anchor="start" opacity="1">50</text>
<text x="702.3" y="443.3" font-size="9.2" fill="#444" textLength="4.3" lengthAdjust="spacingAndGlyphs" text-anchor="start" opacity="1">0</text>
<text x="17.5" y="270.6" font-size="10.4" fill="#686868" font-family="'Liberation Sans','Noto Sans CJK TC',sans-serif" textLength="27.1" lengthAdjust="spacingAndGlyphs" text-anchor="start" opacity="1">成交量</text>
<text x="91.6" y="270.7" font-size="12.2" fill="#4a8af4" textLength="17.5" lengthAdjust="spacingAndGlyphs" text-anchor="start" opacity="1">MV5</text>
<text x="113" y="270.7" font-size="12.2" fill="#4a8af4" font-weight="bold" textLength="35" lengthAdjust="spacingAndGlyphs" text-anchor="start" opacity="1">4,930.25</text>
<path d="M151.9 270.9V262.5M150.4 264.3L151.9 262.5L153.4 264.3" stroke="#4a8af4" stroke-width="0.8" fill="none" opacity="0.85"/>
<text x="167.8" y="270.7" font-size="12.2" fill="#e9579b" textLength="22.5" lengthAdjust="spacingAndGlyphs" text-anchor="start" opacity="1">MV20</text>
<text x="193.8" y="270.7" font-size="12.2" fill="#e9579b" font-weight="bold" textLength="35.4" lengthAdjust="spacingAndGlyphs" text-anchor="start" opacity="1">4,955.24</text>
<path d="M232.9 270.9V262.5M231.4 264.3L232.9 262.5L234.4 264.3" stroke="#e9579b" stroke-width="0.8" fill="none" opacity="0.85"/>
<text x="249.5" y="270.6" font-size="9.4" fill="#555" font-family="'Liberation Sans','Noto Sans CJK TC',sans-serif" textLength="7.6" lengthAdjust="spacingAndGlyphs" text-anchor="start" opacity="1">量</text>
<text x="260.4" y="270.7" font-size="12.2" fill="#555" font-weight="bold" textLength="21.4" lengthAdjust="spacingAndGlyphs" text-anchor="start" opacity="1">5,071</text>
<path d="M286.4 262.5V270.9M284.9 269.09999999999997L286.4 270.9L287.9 269.09999999999997" stroke="#555" stroke-width="0.8" fill="none" opacity="0.85"/>
<text x="17" y="364.6" font-size="12.2" fill="#686868" textLength="13" lengthAdjust="spacingAndGlyphs" text-anchor="start" opacity="1">KD</text>
<text x="91.6" y="364.6" font-size="12.2" fill="#4a8af4" textLength="11.5" lengthAdjust="spacingAndGlyphs" text-anchor="start" opacity="1">K9</text>
<text x="106" y="364.6" font-size="12.2" fill="#4a8af4" font-weight="bold" textLength="22" lengthAdjust="spacingAndGlyphs" text-anchor="start" opacity="1">34.31</text>
<path d="M132 356.40000000000003V364.8M130.5 363.0L132 364.8L133.5 363.0" stroke="#4a8af4" stroke-width="0.8" fill="none" opacity="0.85"/>
<text x="165" y="364.6" font-size="12.2" fill="#e9579b" textLength="12" lengthAdjust="spacingAndGlyphs" text-anchor="start" opacity="1">D9</text>
<text x="180.3" y="364.6" font-size="12.2" fill="#e9579b" font-weight="bold" textLength="22.7" lengthAdjust="spacingAndGlyphs" text-anchor="start" opacity="1">54.29</text>
<path d="M206.3 356.40000000000003V364.8M204.8 363.0L206.3 364.8L207.8 363.0" stroke="#e9579b" stroke-width="0.8" fill="none" opacity="0.85"/>
<text x="241.6" y="364.6" font-size="12.2" fill="#4a4a4a" font-weight="bold" textLength="6" lengthAdjust="spacingAndGlyphs" text-anchor="start" opacity="1">K</text><text x="247.9" y="364.5" font-size="10.3" fill="#4a4a4a" font-weight="bold" font-family="'Liberation Sans','Noto Sans CJK TC',sans-serif" textLength="8.7" lengthAdjust="spacingAndGlyphs" text-anchor="start" opacity="1">值</text><text x="258.6" y="364.6" font-size="12.2" fill="#4a4a4a" font-weight="bold" textLength="4.6" lengthAdjust="spacingAndGlyphs" text-anchor="start" opacity="1">&gt;</text><text x="268.4" y="364.6" font-size="12.2" fill="#4a4a4a" font-weight="bold" textLength="8.8" lengthAdjust="spacingAndGlyphs" text-anchor="start" opacity="1">80</text><text x="278.2" y="364.5" font-size="10.3" fill="#4a4a4a" font-weight="bold" font-family="'Liberation Sans','Noto Sans CJK TC',sans-serif" textLength="27.2" lengthAdjust="spacingAndGlyphs" text-anchor="start" opacity="1">為紅點</text>
<text x="324.4" y="364.6" font-size="12.2" fill="#4a4a4a" font-weight="bold" textLength="6" lengthAdjust="spacingAndGlyphs" text-anchor="start" opacity="1">K</text><text x="330.7" y="364.5" font-size="10.3" fill="#4a4a4a" font-weight="bold" font-family="'Liberation Sans','Noto Sans CJK TC',sans-serif" textLength="8.7" lengthAdjust="spacingAndGlyphs" text-anchor="start" opacity="1">值</text><text x="341.4" y="364.6" font-size="12.2" fill="#4a4a4a" font-weight="bold" textLength="4.6" lengthAdjust="spacingAndGlyphs" text-anchor="start" opacity="1">&lt;</text><text x="351.2" y="364.6" font-size="12.2" fill="#4a4a4a" font-weight="bold" textLength="8.8" lengthAdjust="spacingAndGlyphs" text-anchor="start" opacity="1">20</text><text x="361" y="364.5" font-size="10.3" fill="#4a4a4a" font-weight="bold" font-family="'Liberation Sans','Noto Sans CJK TC',sans-serif" textLength="27.2" lengthAdjust="spacingAndGlyphs" text-anchor="start" opacity="1">為綠點</text>
<text x="319.7" y="60.3" font-size="14.6" font-weight="bold" fill="#3d3d3d" opacity="0.8" font-family="'Liberation Sans','Noto Sans CJK TC',sans-serif" textLength="51.5" lengthAdjust="spacingAndGlyphs" stroke="#777" stroke-width="0.5" stroke-opacity="0.45" paint-order="stroke">加權指數</text>
<text x="372" y="60.3" font-size="15" font-weight="bold" fill="#3d3d3d" opacity="0.8" textLength="37.4" lengthAdjust="spacingAndGlyphs" stroke="#777" stroke-width="0.5" stroke-opacity="0.45" paint-order="stroke">(0000)</text>
<text x="335.3" y="76.3" font-size="8.6" fill="#a8a8a8" textLength="31" lengthAdjust="spacingAndGlyphs" text-anchor="start" opacity="1">WantGoo</text>
<text x="368.5" y="76" font-size="8.2" fill="#a8a8a8" font-family="'Liberation Sans','Noto Sans CJK TC',sans-serif" textLength="24.6" lengthAdjust="spacingAndGlyphs" text-anchor="start" opacity="1">玩股網</text>
<g fill="#dbdbdb">
<path d="M656.3 0C655.6 4.2 657.6 9.2 661.5 10.2C663.4 10.6 664.4 9.6 665.6 8.6C668 6.8 671 4.6 674 3.6C676.5 3.2 678.6 5.6 679.8 8.8C681.8 7.2 682.6 3.2 681.9 0Z"/>
<circle cx="690.4" cy="2.2" r="7.4"/>
</g>
<path d="M663 7C662.8 15.5 664.6 22 670.8 22C677 22 679.6 15 679.4 5.5" fill="#fff" stroke="#dbdbdb" stroke-width="1.5"/>
<path d="M663.2 8.5C666 9 669 7.5 671.5 6.2C674.5 4.7 677 4.2 679.3 5.8L679.6 3L663 5Z" fill="#dbdbdb"/>
<path d="M667.8 11L673.6 11C673 13.2 672 14.2 670.7 14.2C669.4 14.2 668.3 13.2 667.8 11Z" fill="#dbdbdb"/>
<circle cx="675.3" cy="7.9" r="1.1" fill="#dbdbdb"/>
<path d="M668.8 21.5C669.3 19.2 670 18.3 670.8 18.3C671.6 18.3 672.3 19.2 672.8 21.5Z" fill="#dbdbdb"/>
<path d="M686.3 -1L688.2 5.6L690.4 0.5L692.6 5.6L694.5 -1" stroke="#fff" stroke-width="1.6" fill="none" stroke-linejoin="round"/>
<text x="684.7" y="20.6" font-size="8.9" font-weight="bold" fill="#d2d2d2" font-family="'Liberation Sans','Noto Sans CJK TC',sans-serif" textLength="26.3" lengthAdjust="spacingAndGlyphs" text-anchor="start" opacity="1">玩股網</text>
</svg>
</body></html>
